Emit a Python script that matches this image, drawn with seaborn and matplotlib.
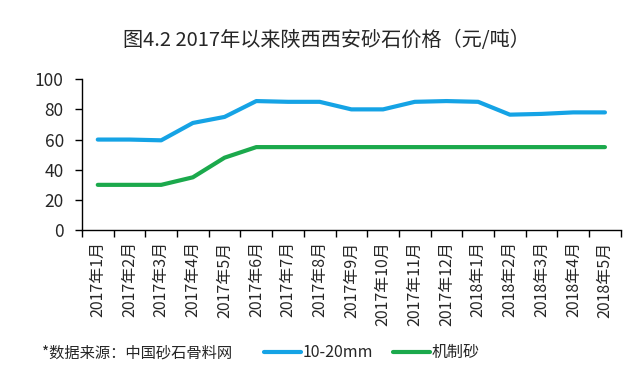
import matplotlib
matplotlib.use('Agg')
import pandas as pd
import seaborn as sns
import matplotlib.pyplot as plt
from matplotlib.ticker import FixedLocator

# 数据
months = ['2017年1月', '2017年2月', '2017年3月', '2017年4月', '2017年5月', '2017年6月',
          '2017年7月', '2017年8月', '2017年9月', '2017年10月', '2017年11月', '2017年12月',
          '2018年1月', '2018年2月', '2018年3月', '2018年4月', '2018年5月']
price_10_20mm = [60, 60, 59.5, 71, 75, 85.5, 85, 85, 80, 80, 85, 85.5, 85, 76.5, 77, 78, 78]
price_jizhisha = [30, 30, 30, 35, 48, 55, 55, 55, 55, 55, 55, 55, 55, 55, 55, 55, 55]
series_names = ['10-20mm', '机制砂']
colors = ['#15A3E5', '#1BA94C']
title = '图4.2 2017年以来陕西西安砂石价格（元/吨）'
source = '*数据来源：中国砂石骨料网'

sns.set_theme(style='white')
plt.rcParams['font.family'] = ['Noto Sans CJK SC', 'DejaVu Sans']
plt.rcParams['axes.unicode_minus'] = False

df = pd.DataFrame({'月份': months * 2,
                   '价格': price_10_20mm + price_jizhisha,
                   '品种': [series_names[0]] * len(months) + [series_names[1]] * len(months)})

fig = plt.figure(figsize=(6.4, 3.7), dpi=100)
ax = fig.add_axes([0.128, 0.378, 0.842, 0.408])
sns.lineplot(data=df, x='月份', y='价格', hue='品种', palette=colors, linewidth=3,
             sort=False, ax=ax, legend=True)

ax.set_xlim(-0.5, len(months) - 0.5)
ax.set_ylim(0, 100)
ax.set_yticks([0, 20, 40, 60, 80, 100])
ax.set_xticks(range(len(months)))
ax.set_xticklabels(months, rotation=90, fontsize=11.5)
ax.xaxis.set_minor_locator(FixedLocator([i - 0.5 for i in range(len(months) + 1)]))
ax.tick_params(axis='x', which='major', length=0, pad=8)
ax.tick_params(axis='x', which='minor', length=5, width=1, color='black', direction='out', bottom=True)
ax.tick_params(axis='y', length=5, width=1, color='black', direction='out', left=True,
               labelsize=12.5, pad=8)
ax.set_xlabel('')
ax.set_ylabel('')
for s in ['top', 'right']:
    ax.spines[s].set_visible(False)
for s in ['left', 'bottom']:
    ax.spines[s].set_color('black')
    ax.spines[s].set_linewidth(1)

fig.text(0.51, 0.89, title, ha='center', va='center', fontsize=14.5)
fig.text(0.066, 0.046, source, ha='left', va='center', fontsize=11)

handles, labels = ax.get_legend_handles_labels()
ax.legend(handles, labels, ncol=2, frameon=False, fontsize=11.5,
          loc='center left', bbox_to_anchor=(0.39, 0.046), bbox_transform=fig.transFigure,
          handlelength=2.3, handletextpad=0.15, columnspacing=1.2)

fig.savefig('out.png', dpi=100)
